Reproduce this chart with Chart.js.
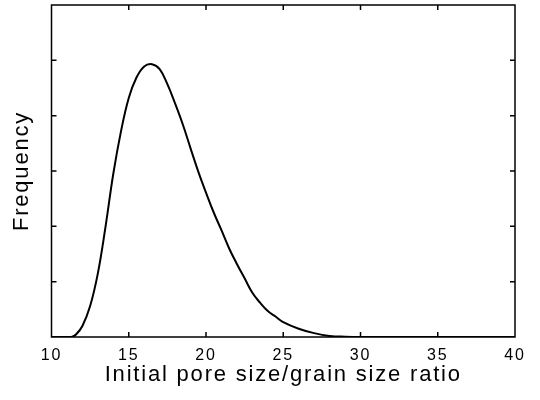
<!DOCTYPE html>
<html>
<head>
<meta charset="utf-8">
<script src="https://cdn.jsdelivr.net/npm/chart.js@4"></script>
<style>
  html, body { margin: 0; padding: 0; background: #fff; }
</style>
</head>
<body>
<canvas id="poreChart" width="540" height="400"></canvas>
<script>
// curve
const poreRatio = [10, 11, 11.3, 11.6, 12, 12.5, 13, 13.5, 14, 14.5, 15, 15.5, 16, 16.5, 17, 17.5, 18, 18.5, 19, 19.5, 20, 20.5, 21, 21.5, 22, 22.5, 23, 23.5, 24, 24.5, 25, 26, 27, 28, 29, 30, 35, 40];
const frequency = [0, 0, 0, 0.05, 0.2, 0.56, 1.15, 2.0, 2.95, 3.72, 4.32, 4.69, 4.89, 4.93, 4.84, 4.57, 4.22, 3.84, 3.41, 2.99, 2.61, 2.25, 1.93, 1.6, 1.32, 1.06, 0.8, 0.62, 0.47, 0.37, 0.27, 0.15, 0.07, 0.02, 0.005, 0, 0, 0];
const xTicks = [10, 15, 20, 25, 30, 35, 40];
const yTicks = [0, 1, 2, 3, 4, 5, 6];

const points = poreRatio.map((x, i) => ({ x: x, y: frequency[i] }));

// frame + inward ticks on all four sides
const frameTicks = {
    id: 'frameTicks',
    beforeDraw(chart) {
        chart.ctx.letterSpacing = '1.8px';
    },
    afterDraw(chart) {
        const { ctx, chartArea: a, scales } = chart;
        const len = 5;
        ctx.save();
        ctx.strokeStyle = '#000';
        ctx.lineWidth = 1.5;
        ctx.strokeRect(a.left, a.top, a.right - a.left, a.bottom - a.top);
        ctx.beginPath();
        xTicks.slice(1, -1).forEach(v => {
            const px = scales.x.getPixelForValue(v);
            ctx.moveTo(px, a.bottom); ctx.lineTo(px, a.bottom - len);
            ctx.moveTo(px, a.top); ctx.lineTo(px, a.top + len);
        });
        yTicks.slice(1, -1).forEach(v => {
            const py = scales.y.getPixelForValue(v);
            ctx.moveTo(a.left, py); ctx.lineTo(a.left + len, py);
            ctx.moveTo(a.right, py); ctx.lineTo(a.right - len, py);
        });
        ctx.stroke();
        ctx.restore();
    }
};

const ctx = document.getElementById('poreChart').getContext('2d');
new Chart(ctx, {
    type: 'line',
    data: {
        datasets: [{
            data: points,
            borderColor: '#000',
            borderWidth: 2,
            pointRadius: 0,
            fill: false,
            tension: 0.4
        }]
    },
    options: {
        responsive: false,
        animation: false,
        layout: { padding: { top: 5, right: 25, left: 0, bottom: 0 } },
        plugins: { legend: { display: false }, tooltip: { enabled: false } },
        scales: {
            x: {
                type: 'linear',
                min: 10,
                max: 40,
                afterBuildTicks: s => { s.ticks = xTicks.map(v => ({ value: v })); },
                afterFit: s => { s.height = 63; },
                grid: { display: false, drawTicks: false },
                border: { display: false },
                ticks: {
                    color: '#000',
                    padding: 9,
                    maxRotation: 0,
                    font: { family: 'Liberation Sans', size: 16 }
                },
                title: {
                    display: true,
                    text: 'Initial pore size/grain size ratio',
                    color: '#000',
                    padding: { top: 4, bottom: 12 },
                    font: { family: 'Liberation Sans', size: 22 }
                }
            },
            y: {
                min: 0,
                max: 6,
                afterBuildTicks: s => { s.ticks = yTicks.map(v => ({ value: v })); },
                afterFit: s => { s.width = 51.5; },
                grid: { display: false, drawTicks: false },
                border: { display: false },
                ticks: { display: false },
                title: {
                    display: true,
                    text: 'Frequency',
                    color: '#000',
                    padding: { top: 9, bottom: 4 },
                    font: { family: 'Liberation Sans', size: 22 }
                }
            }
        }
    },
    plugins: [frameTicks]
});
</script>
</body>
</html>
